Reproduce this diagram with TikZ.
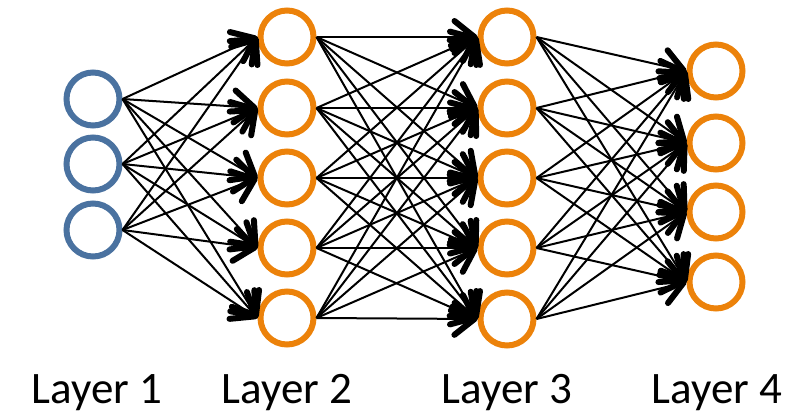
\documentclass[tikz,border=0pt]{standalone}
\usepackage{fontspec}
\setmainfont{Carlito}
\usetikzlibrary{arrows.meta}
\definecolor{nnblue}{RGB}{74,114,160}
\definecolor{nnorange}{RGB}{236,130,10}
\begin{document}
\begin{tikzpicture}[x=1pt,y=-1pt,
  neuron/.style={circle,draw,line width=6pt,minimum size=53pt,inner sep=0pt},
  inneuron/.style={neuron,draw=nnblue},
  hidneuron/.style={neuron,draw=nnorange},
  conn/.style={line width=2pt,-{Straight Barb[length=20pt,width=32pt,line width=6pt,round]}},
  lbl/.style={font=\fontsize{45}{48}\selectfont,anchor=base}]
\useasboundingbox (0,0) rectangle (807,420);
% layer 1
\foreach \i/\y in {1/99,2/164,3/230}
  \node[inneuron] (a\i) at (93,\y) {};
% layer 2
\foreach \i/\y in {1/37,2/108,3/178,4/248,5/318}
  \node[hidneuron] (b\i) at (287,\y) {};
% layer 3
\foreach \i/\y in {1/37,2/108,3/178,4/248,5/319}
  \node[hidneuron] (c\i) at (507,\y) {};
% layer 4
\foreach \i/\y in {1/71,2/143,3/212,4/282}
  \node[hidneuron] (d\i) at (716,\y) {};
% connections
\foreach \i in {1,2,3}
  \foreach \j in {1,...,5}
    \draw[conn] (a\i.east) -- (b\j.west);
\foreach \i in {1,...,5}
  \foreach \j in {1,...,5}
    \draw[conn] (b\i.east) -- (c\j.west);
\foreach \i in {1,...,5}
  \foreach \j in {1,...,4}
    \draw[conn] (c\i.east) -- (d\j.west);
% labels
\node[lbl] (l1) at (97,403) {Layer 1};
\node[lbl] (l2) at (287,403) {Layer 2};
\node[lbl] (l3) at (507,403) {Layer 3};
\node[lbl] (l4) at (717,403) {Layer 4};
\end{tikzpicture}
\end{document}
